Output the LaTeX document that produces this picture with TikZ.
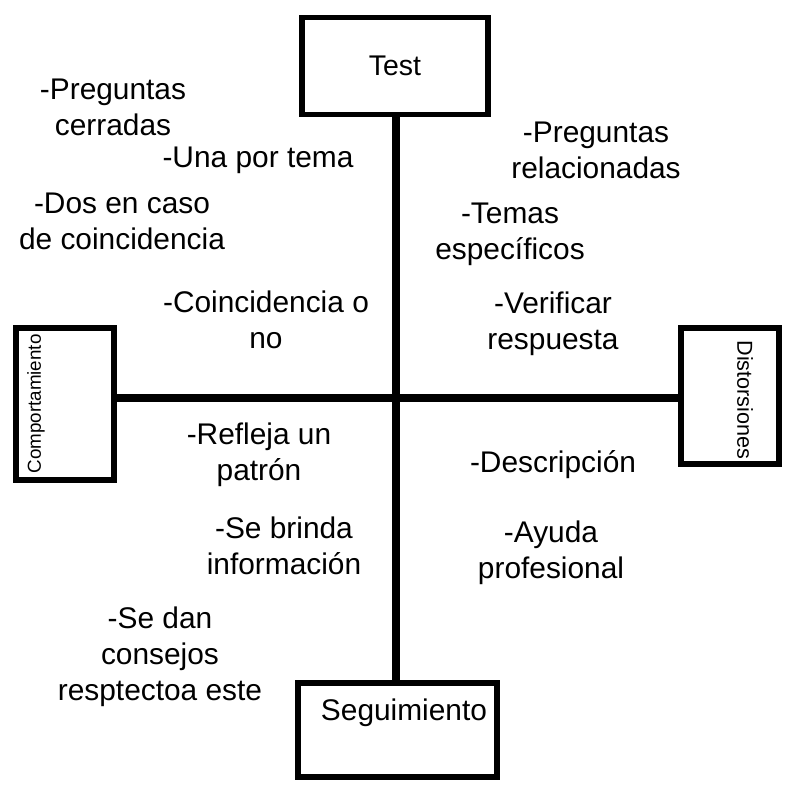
\documentclass[tikz,border=0pt]{standalone}
\usepackage{fontspec}
\setmainfont{Liberation Sans}
\usepackage{tikz}
\usetikzlibrary{positioning, calc}

\begin{document}
\begin{tikzpicture}[x=0.02cm, y=-0.02cm]
  \tikzstyle{box}=[draw, line width=3.4pt, inner sep=0pt]
  \tikzstyle{axis}=[line width=4.6pt]
  \tikzstyle{note}=[align=center, font=\fontsize{17}{20.5}\selectfont, inner sep=0pt]
  \useasboundingbox (0,0) rectangle (800,800);

  % boxes
  \node (test) at (395,66) [box, minimum width=186*0.02cm, minimum height=97*0.02cm,
    font=\fontsize{16.2}{18}\selectfont] {Test};
  \node (seg) at (397.5,730) [box, minimum width=199*0.02cm, minimum height=94*0.02cm] {};
  \node (segtext) at (404,713) [note] {Seguimiento};
  \node (comp) at (65,404) [box, minimum width=98*0.02cm, minimum height=152*0.02cm] {};
  \node (comptext) at (36,404) [rotate=90, font=\fontsize{10.7}{13}\selectfont, inner sep=0pt] {Comportamiento};
  \node (dist) at (730,396) [box, minimum width=98*0.02cm, minimum height=136*0.02cm] {};
  \node (disttext) at (745,400) [rotate=-90, font=\fontsize{12.3}{13}\selectfont, inner sep=0pt] {Distorsiones};

  % spine
  \coordinate (hub) at (396,398);
  \draw[axis] (hub |- test.south) -- (hub |- seg.north);
  \draw[axis] (hub -| comp.east) -- (hub -| dist.west);

  % notes, upper left
  \node (cerradas) at (113,107) [note] {-Preguntas\\cerradas};
  \node (unatema) at (258,160) [note] {-Una por tema};
  \node (dosen) at (122,221) [note] {-Dos en caso\\de coincidencia};
  \node (coinc) at (266,320) [note] {-Coincidencia o\\no};

  % notes, upper right
  \node (relac) at (596,150) [note] {-Preguntas\\relacionadas};
  \node (temas) at (510,234) [note] {-Temas\\específicos};
  \node (verif) at (553,324) [note] {-Verificar\\respuesta};

  % notes, lower half
  \node (refleja) at (259,455) [note] {-Refleja un\\patrón};
  \node (brinda) at (284,546) [note] {-Se brinda\\información};
  \node (consejos) at (160,657) [note] {-Se dan\\consejos\\resptectoa este};
  \node (descr) at (553,465) [note] {-Descripción};
  \node (ayuda) at (551,553) [note] {-Ayuda\\profesional};
\end{tikzpicture}
\end{document}
